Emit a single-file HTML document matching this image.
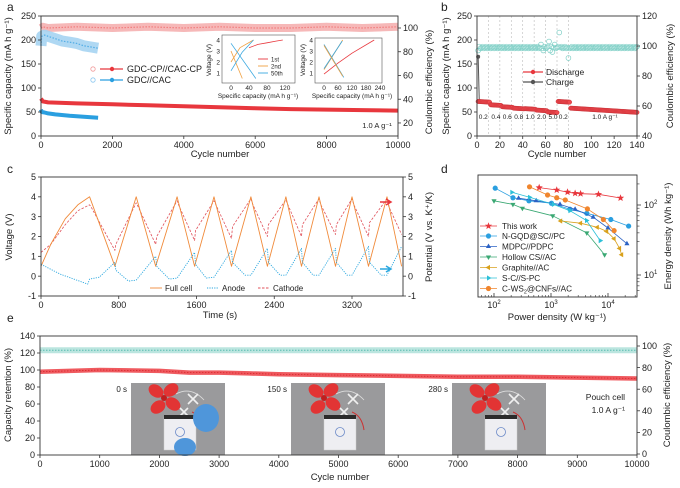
<!DOCTYPE html>
<html><head><meta charset="utf-8"><style>
html,body{margin:0;padding:0;background:#fff}
svg{display:block;font-family:"Liberation Sans",Arial,sans-serif}
</style></head><body>
<svg id="chart" xmlns="http://www.w3.org/2000/svg" width="680" height="488" viewBox="0 0 680 488"></svg>
<script>
// ---------- DATA ----------
// panel a
const aCycles=[1,50,200,1000,2000,3000,4000,5000,6000,7000,8000,9000,10000];
const aRedCap=[78,72,70,68,66,64,62,60,58,56,55,54,53];
const aRedCE=[100,101,100,101,100,101,100,101,100,100,101,100,101];
const aBlueCyc=[1,20,100,200,400,800,1200,1600];
const aBlueCap=[55,50,49,47,45,42,40,38];
const aBlueCECyc=[1,20,100,200,400,600,800,1000,1200,1400,1600];
const aBlueCE=[85,93,94,93,91,89,88,87,85,84,83];
const in1X1=[40,60,80,100,115],in1Y1=[3.3,3.6,3.75,3.9,4.0];
const in1X2c=[0,20,50],in1Y2c=[2.0,3.3,4.0];
const in1X2d=[0,25],in1Y2d=[3.0,0.5];
const in1X3c=[0,25,50],in1Y3c=[1.2,2.9,4.0];
const in1X3d=[0,55],in1Y3d=[3.7,0.5];
const in2X1=[0,60,120,215],in2Y1=[0.9,1.9,2.8,4.0];
const in2Xc=[0,80],in2Yc=[1.3,4.0];
const in2Xd=[0,85],in2Yd=[3.6,0.6];
// panel b
const bSegStart=[1,12,22,32,42,52,62,71,82];
const bSegEnd=[11,21,31,41,51,61,70,81,140];
const bSegCap=[72,65,61,58,57,54,50,72,58];
const bRates=["0.2","0.4","0.6","0.8","1.0","2.0","5.0","0.2"];
const bCEBase=99;
const bCEOutCyc=[1,56,58,63,64,66,68,72,80];
const bCEOutVal=[97,101,97,103,97,96,101,109,92];
const bFirstCharge=165;
// panel c
const cFt=[0,100,250,380,500,760,980,1180,1400,1580,1780,1960,2160,2330,2520,2680,2860,3030,3200,3370,3560,3710];
const cFv=[0.5,1.6,2.9,3.6,4.0,0.5,4.0,0.5,4.0,0.5,4.0,0.5,4.0,0.5,4.0,0.5,4.0,0.5,4.0,0.5,4.0,0.5];
const cCt=[0,100,250,380,500,520,760,770,980,1000,1180,1190,1400,1420,1580,1590,1780,1800,1960,1970,2160,2180,2330,2340,2520,2540,2680,2690,2860,2880,3030,3040,3200,3220,3370,3380,3560,3580,3710];
const cCv=[1.2,1.6,2.6,3.3,3.6,3.45,1.3,1.6,3.7,3.5,1.6,2.0,3.8,3.55,1.8,2.3,3.8,3.6,1.9,2.5,3.9,3.6,2.0,2.6,3.85,3.6,2.0,2.6,3.9,3.6,2.1,2.6,3.9,3.6,2.0,2.7,3.9,3.5,2.1];
const cAt=[0,200,480,500,600,760,770,900,980,1180,1190,1320,1400,1580,1590,1700,1780,1960,1970,2100,2160,2330,2340,2460,2520,2680,2690,2800,2860,3030,3040,3150,3200,3370,3380,3500,3560,3710];
const cAv=[0.6,0.1,-0.4,-0.15,-0.05,0.7,0.3,-0.25,-0.2,1.0,0.5,-0.15,-0.1,1.2,0.6,-0.1,-0.05,1.3,0.7,0.05,0.05,1.4,0.7,0.05,0.05,1.4,0.7,0.05,0.05,1.4,0.7,0.05,0.05,1.5,0.7,0.05,0.05,1.5];
// panel d
const dNames=["This work","N-GQD@SC//PC","MDPC//PDPC","Hollow CS//AC","Graphite//AC","S-C//S-PC","C-WS2@CNFs//AC"];
const dP0=[620,1260,1950,2650,3300,6800,16600], dE0=[177,164,153,147,145,142,126];
const dP1=[105,215,410,1020,2150,4250,11200,23000], dE1=[174,127,115,106,87,76,62,50];
const dP2=[270,550,1440,2650,5500,10000,21500], dE2=[125,115,102,87,67,47,28];
const dP3=[100,215,315,1070,4250,8700], dE3=[115,102,90,70,40,19.5];
const dP4=[1480,3300,6500,9500,12800,16000,17400], dE4=[59,55,48,42,33,24,19.5];
const dP5=[205,420,1100,2150,4200,7300], dE5=[152,129,102,83,60,31];
const dP6=[420,870,1260,1780,4350,8300,12800], dE6=[182,139,127,118,88,62,43];
// panel e
const eCyc=[0,1000,2000,2500,3000,3500,4000,5000,6000,7000,8000,9000,10000];
const eRet=[98,100,99,97,97,96,95,94,93,92,92,91,90];
const eCE=[96,96,96,96,96,96,96,96,96,96,96,96,96];
const ePhotoLabels=["0 s","150 s","280 s"];

// ---------- HELPERS ----------
const NS='http://www.w3.org/2000/svg';
const svg=document.getElementById('chart');
function mk(tag,attrs,parent){const e=document.createElementNS(NS,tag);for(const k in attrs)e.setAttribute(k,attrs[k]);(parent||svg).appendChild(e);return e;}
function lin(d0,d1,r0,r1){return v=>r0+(v-d0)*(r1-r0)/(d1-d0);}
function logs(d0,d1,r0,r1){return v=>r0+(Math.log10(v)-Math.log10(d0))*(r1-r0)/(Math.log10(d1)-Math.log10(d0));}
function txt(x,y,s,size,anchor,rot,fill){const t=mk('text',{x:x,y:y,'font-size':size||9,'text-anchor':anchor||'middle',fill:fill||'#222'});if(rot)t.setAttribute('transform','rotate(-90 '+x+' '+y+')');t.textContent=s;return t;}
function name(e,n,i){return e;}
function poly(xs,ys,sx,sy,st){const pts=xs.map((v,i)=>sx(v).toFixed(1)+','+sy(ys[i]).toFixed(1)).join(' ');const a={points:pts,fill:'none',stroke:st.c,'stroke-width':st.w,'stroke-linejoin':'round'};if(st.d)a['stroke-dasharray']=st.d;if(st.o)a['stroke-opacity']=st.o;return mk('polyline',a);}
function ticksX(vals,labels,sx,y,len,fs){vals.forEach((v,i)=>{const l=mk('line',{x1:sx(v),x2:sx(v),y1:y,y2:y+len,stroke:'#333','stroke-width':0.8});name(l,'x-tick');if(labels){const t=txt(sx(v),y+len+9,labels[i],fs||9);name(t,'x-tick-label');}});}
function ticksY(vals,labels,sy,x,len,fs,side){vals.forEach((v,i)=>{const l=mk('line',{x1:x,x2:x+len*side,y1:sy(v),y2:sy(v),stroke:'#333','stroke-width':0.8});name(l,'y-tick');if(labels){const t=txt(x+(len+2)*side,sy(v)+3.2,labels[i],fs||9,side<0?'end':'start');name(t,'y-tick-label');}});}
function frame(x0,y0,x1,y1,n){const r=mk('rect',{x:x0,y:y0,width:x1-x0,height:y1-y0,fill:'none',stroke:'#333','stroke-width':0.9});name(r,n);return r;}

// ---------- PANEL A ----------
let t=txt(7,11,'a',12,'start');name(t,'panel-a-label');
const xa=lin(0,10000,41,398), ya=lin(0,250,136,16), yaR=lin(0,100,146.7,28);
let p=poly(aCycles,aRedCE,xa,yaR,{c:'#f5b0b0',w:8,o:0.9});name(p,'gdc-cp-ce-band');
p=poly(aCycles,aRedCE,xa,yaR,{c:'#e55',w:1.2,d:'1.5 1.5',o:0.6});name(p,'gdc-cp-ce-markers');
p=poly(aBlueCECyc,aBlueCE,xa,yaR,{c:'#a6d4f2',w:11,o:0.9});name(p,'gdc-cac-ce-band');
p=poly(aBlueCECyc,aBlueCE,xa,yaR,{c:'#2b9be0',w:1.2,d:'1.5 1.5',o:0.7});name(p,'gdc-cac-ce-markers');
p=poly(aCycles,aRedCap,xa,ya,{c:'#e8373d',w:4});name(p,'gdc-cp-capacity-line');
p=poly(aBlueCyc,aBlueCap,xa,ya,{c:'#2a9fe0',w:4});name(p,'gdc-cac-capacity-line');
frame(41,16,398,136,'panel-a-plot-frame');
ticksX([0,2000,4000,6000,8000,10000],['0','2000','4000','6000','8000','10000'],xa,136,3,9);
ticksY([0,50,100,150,200,250],['0','50','100','150','200','250'],ya,41,3,9,-1);
ticksY([20,40,60,80,100],['20','40','60','80','100'],yaR,398,3,9,1);
t=txt(220,157,'Cycle number',9.5);name(t,'panel-a-x-title');
t=txt(11,76,'Specific capacity (mA h g\u207B\u00B9)',9.5,'middle',true);name(t,'panel-a-y-title');
t=txt(432,82,'Coulombic efficiency (%)',9.5,'middle',true);name(t,'panel-a-y2-title');
t=txt(377,128,'1.0 A g\u207B\u00B9',7.5);name(t,'panel-a-rate-label');
[[69,'#e8373d','#f19a9a','GDC-CP//CAC-CP'],[80,'#2a9fe0','#8cc8f0','GDC//CAC']].forEach((r,i)=>{
 const c=mk('circle',{cx:93,cy:r[0],r:2.2,fill:'none',stroke:r[2],'stroke-width':0.8});name(c,'legend-ce-marker');
 const l=mk('line',{x1:100,x2:123,y1:r[0],y2:r[0],stroke:r[1],'stroke-width':1.3});name(l,'legend-line');
 const d=mk('circle',{cx:112,cy:r[0],r:2.2,fill:r[1]});name(d,'legend-marker');
 const tt=txt(127,r[0]+3,r[3],9,'start');name(tt,'legend-entry');
});
const i1x=lin(0,120,231,285), i1y=lin(0,4,84,40);
let fr=mk('rect',{x:222,y:35,width:73,height:48,fill:'#fff',stroke:'#555','stroke-width':0.6});name(fr,'inset1-frame');
p=poly(in1X1,in1Y1,i1x,i1y,{c:'#e8373d',w:0.8});name(p,'inset1-1st');
p=poly(in1X2c,in1Y2c,i1x,i1y,{c:'#f0a040',w:0.8});name(p,'inset1-2nd-charge');
p=poly(in1X2d,in1Y2d,i1x,i1y,{c:'#f0a040',w:0.8});name(p,'inset1-2nd-discharge');
p=poly(in1X3c,in1Y3c,i1x,i1y,{c:'#3aa8e0',w:0.8});name(p,'inset1-50th-charge');
p=poly(in1X3d,in1Y3d,i1x,i1y,{c:'#3aa8e0',w:0.8});name(p,'inset1-50th-discharge');
[1,2,3,4].forEach(v=>{t=txt(220,i1y(v)+2.5,String(v),6.5,'end');name(t,'inset1-y-tick-label');});
[0,40,80,120].forEach(v=>{t=txt(i1x(v),90,String(v),6.5);name(t,'inset1-x-tick-label');});
t=txt(258,98,'Specific capacity (mA h g\u207B\u00B9)',6.5);name(t,'inset1-x-title');
t=txt(211,60,'Voltage (V)',6.5,'middle',true);name(t,'inset1-y-title');
[['1st','#e8373d',59],['2nd','#f0a040',66],['50th','#3aa8e0',73]].forEach(r=>{
 const l=mk('line',{x1:258,x2:268,y1:r[2],y2:r[2],stroke:r[1],'stroke-width':0.9});name(l,'inset1-legend-line');
 const tt=txt(271,r[2]+2.3,r[0],6,'start');name(tt,'inset1-legend-entry');});
const i2x=lin(0,240,324,380);
fr=mk('rect',{x:315,y:38,width:67,height:45,fill:'#fff',stroke:'#555','stroke-width':0.6});name(fr,'inset2-frame');
p=poly(in2X1,in2Y1,i2x,i1y,{c:'#e8373d',w:0.8});name(p,'inset2-1st');
p=poly(in2Xc,in2Yc,i2x,i1y,{c:'#f0a040',w:0.8});name(p,'inset2-2nd-charge');
p=poly(in2Xd,in2Yd,i2x,i1y,{c:'#3aa8e0',w:0.8});name(p,'inset2-discharge');
p=poly([0,78],[1.4,3.9],i2x,i1y,{c:'#3aa8e0',w:0.8});name(p,'inset2-50th-charge');
p=poly([0,80],[3.5,0.7],i2x,i1y,{c:'#f0a040',w:0.8});name(p,'inset2-2nd-discharge');
[1,2,3,4].forEach(v=>{t=txt(313,i1y(v)+2.5,String(v),6.5,'end');name(t,'inset2-y-tick-label');});
[0,60,120,180,240].forEach(v=>{t=txt(i2x(v),90,String(v),6.5);name(t,'inset2-x-tick-label');});
t=txt(352,98,'Specific capacity (mA h g\u207B\u00B9)',6.5);name(t,'inset2-x-title');
t=txt(305,60,'Voltage (V)',6.5,'middle',true);name(t,'inset2-y-title');

// ---------- PANEL B ----------
t=txt(441,11,'b',12,'start');name(t,'panel-b-label');
const xb=lin(0,140,477,637), yb=lin(0,250,136,16), ybR=lin(40,120,136,16);
for(let c=10;c<=80;c+=10){const l=mk('line',{x1:xb(c),x2:xb(c),y1:16,y2:136,stroke:'#bbb','stroke-width':0.6,'stroke-dasharray':'2 2'});name(l,'rate-divider');}
for(let c=1;c<=140;c++){const k=bCEOutCyc.indexOf(c);const v=k>=0?bCEOutVal[k]:bCEBase+((c%3)-1)*0.6;
 const e=mk('circle',{cx:xb(c),cy:ybR(v),r:2.4,fill:'none',stroke:'#7fcfc6','stroke-width':0.7});
 
 }
let chl=mk('line',{x1:xb(1),x2:xb(2),y1:yb(bFirstCharge),y2:yb(bSegCap[0]),stroke:'#555','stroke-width':1});name(chl,'first-charge-line');
let chp=mk('circle',{cx:xb(1),cy:yb(bFirstCharge),r:2,fill:'#555'});name(chp,'first-charge-point');
bSegCap.forEach((v,i)=>{for(let c=bSegStart[i];c<=bSegEnd[i];c++){
 const e=mk('circle',{cx:xb(c),cy:yb(v-(c-bSegStart[i])*0.15),r:2.2,fill:'#ef4a50',stroke:'#c0282e','stroke-width':0.4});
 
 }});
frame(477,16,637,136,'panel-b-plot-frame');
ticksX([0,20,40,60,80,100,120,140],['0','20','40','60','80','100','120','140'],xb,136,3,9);
ticksY([0,50,100,150,200,250],['0','50','100','150','200','250'],yb,477,3,9,-1);
ticksY([40,60,80,100,120],['40','60','80','100','120'],ybR,637,3,9,1);
t=txt(557,157,'Cycle number',9.5);name(t,'panel-b-x-title');
t=txt(449,76,'Specific capacity (mA h g\u207B\u00B9)',9.5,'middle',true);name(t,'panel-b-y-title');
t=txt(673,76,'Coulombic efficiency (%)',9.5,'middle',true);name(t,'panel-b-y2-title');
bRates.forEach((r,i)=>{t=txt(xb(bSegStart[i]+4.5),119,r,6.5);name(t,'rate-label');});
t=txt(xb(112),119,'1.0 A g\u207B\u00B9',6.5);name(t,'rate-label-1a');
[[72,'#e8373d','Discharge'],[82,'#555','Charge']].forEach(r=>{
 const l=mk('line',{x1:523,x2:543,y1:r[0],y2:r[0],stroke:r[1],'stroke-width':1.3});name(l,'legend-line');
 const d=mk('circle',{cx:533,cy:r[0],r:2.2,fill:r[1]});name(d,'legend-marker');
 const tt=txt(546,r[0]+3,r[2],8.5,'start');name(tt,'legend-entry');});

// ---------- PANEL C ----------
t=txt(7,173,'c',12,'start');name(t,'panel-c-label');
const xc=lin(0,3200,41,352), yc=lin(-1,5,296,177);
p=poly(cCt,cCv,xc,yc,{c:'#e0505a',w:0.8,d:'2.5 1.5'});name(p,'cathode-line');
p=poly(cFt,cFv,xc,yc,{c:'#f08a3a',w:0.9});name(p,'full-cell-line');
p=poly(cAt,cAv,xc,yc,{c:'#2aa7df',w:0.9,d:'1.2 1.2'});name(p,'anode-line');
frame(41,177,403,296,'panel-c-plot-frame');
ticksX([0,800,1600,2400,3200],['0','800','1600','2400','3200'],xc,296,3,9);
ticksY([-1,0,1,2,3,4,5],['-1','0','1','2','3','4','5'],yc,41,3,9,-1);
ticksY([-1,0,1,2,3,4,5],['-1','0','1','2','3','4','5'],yc,403,3,9,1);
t=txt(220,318,'Time (s)',9.5);name(t,'panel-c-x-title');
t=txt(12,237,'Voltage (V)',9.5,'middle',true);name(t,'panel-c-y-title');
t=txt(432,237,'Potential (V vs. K\u207A/K)',9.5,'middle',true);name(t,'panel-c-y2-title');
let ar=mk('path',{d:'M380 202 L390 202 M386 199 L391 202 L386 205',stroke:'#e8373d','stroke-width':1.5,fill:'none'});name(ar,'cathode-axis-arrow');
ar=mk('path',{d:'M380 269 L390 269 M386 266 L391 269 L386 272',stroke:'#2aa7df','stroke-width':1.5,fill:'none'});name(ar,'anode-axis-arrow');
[[150,'#f08a3a',null,'Full cell'],[207,'#2aa7df','1.2 1.2','Anode'],[258,'#e0505a','2.5 1.5','Cathode']].forEach(r=>{
 const a={x1:r[0],x2:r[0]+12,y1:288,y2:288,stroke:r[1],'stroke-width':0.9};if(r[2])a['stroke-dasharray']=r[2];
 const l=mk('line',a);name(l,'legend-line');
 const tt=txt(r[0]+15,291,r[3],8,'start');name(tt,'legend-entry');});

// ---------- PANEL D ----------
t=txt(441,173,'d',12,'start');name(t,'panel-d-label');
const xd=logs(100,10000,494,608), yd=logs(10,100,275,205);
frame(478,175,637,297,'panel-d-plot-frame');
const dCols=['#e8373d','#2a9fe0','#2b62c4','#3aa873','#d9a11c','#2cc0d8','#f0852d'];
const dShapes=['star','circle','tup','tdown','tleft','tright','circle'];
function marker(x,y,s,c){
 let e;
 if(s==='circle')e=mk('circle',{cx:x,cy:y,r:2.6,fill:c});
 else if(s==='star'){let pts=[];for(let k=0;k<10;k++){const r=k%2?1.6:3.8,a=-Math.PI/2+k*Math.PI/5;pts.push((x+r*Math.cos(a)).toFixed(1)+','+(y+r*Math.sin(a)).toFixed(1));}e=mk('polygon',{points:pts.join(' '),fill:c});}
 else{const r=3;const rots={tup:-90,tdown:90,tleft:180,tright:0};const a0=rots[s]*Math.PI/180;let pts=[];for(let k=0;k<3;k++){const a=a0+k*2*Math.PI/3;pts.push((x+r*Math.cos(a)).toFixed(1)+','+(y+r*Math.sin(a)).toFixed(1));}e=mk('polygon',{points:pts.join(' '),fill:c});}
 return e;}
const dP=[dP0,dP1,dP2,dP3,dP4,dP5,dP6], dE=[dE0,dE1,dE2,dE3,dE4,dE5,dE6];
dP.forEach((ps,i)=>{
 const l=poly(ps,dE[i],xd,yd,{c:dCols[i],w:0.8});name(l,'series-line-'+i);
 ps.forEach((v,j)=>{const m=marker(xd(v),yd(dE[i][j]),dShapes[i],dCols[i]);
  
  });});
[100,1000,10000].forEach(v=>{const l=mk('line',{x1:xd(v),x2:xd(v),y1:297,y2:293,stroke:'#333','stroke-width':0.8});name(l,'x-tick');});
[60,70,80,90,200,300,400,500,600,700,800,900,2000,3000,4000,5000,6000,7000,8000,9000,20000,30000].forEach(v=>{if(xd(v)>478&&xd(v)<637){const l=mk('line',{x1:xd(v),x2:xd(v),y1:297,y2:295,stroke:'#333','stroke-width':0.6});name(l,'x-minor-tick');}});
[['10','2',100],['10','3',1000],['10','4',10000]].forEach(r=>{const tt=txt(xd(r[2]),308,'',9);tt.innerHTML=r[0]+'<tspan font-size="6" dy="-4">'+r[1]+'</tspan>';name(tt,'x-tick-label');});
[10,100].forEach(v=>{const l=mk('line',{x1:637,x2:641,y1:yd(v),y2:yd(v),stroke:'#333','stroke-width':0.8});name(l,'y-tick');});
[6,7,8,9,20,30,40,50,60,70,80,90,200].forEach(v=>{if(yd(v)>175&&yd(v)<297){const l=mk('line',{x1:637,x2:639.5,y1:yd(v),y2:yd(v),stroke:'#333','stroke-width':0.6});name(l,'y-minor-tick');}});
[['10','1',10],['10','2',100]].forEach(r=>{const tt=txt(644,yd(r[2])+3,'',9,'start');tt.innerHTML=r[0]+'<tspan font-size="6" dy="-4">'+r[1]+'</tspan>';name(tt,'y-tick-label');});
t=txt(557,320,'Power density (W kg\u207B\u00B9)',9.5);name(t,'panel-d-x-title');
t=txt(671,236,'Energy density (Wh kg\u207B\u00B9)',9.5,'middle',true);name(t,'panel-d-y-title');
const dLegY=[226,236,246.5,257,267.5,278,288.5];
dNames.forEach((n,i)=>{
 const l=mk('line',{x1:480,x2:497,y1:dLegY[i],y2:dLegY[i],stroke:dCols[i],'stroke-width':0.8});name(l,'legend-line');
 const m=marker(488.5,dLegY[i],dShapes[i],dCols[i]);name(m,'legend-marker');
 const tt=txt(502,dLegY[i]+3,'',8.2,'start');
 if(i===6){tt.innerHTML='C-WS<tspan font-size="5.5" dy="2">2</tspan><tspan dy="-2">@CNFs//AC</tspan>';}else{tt.textContent=n;}
 name(tt,'legend-entry');});

// ---------- PANEL E ----------
t=txt(7,322,'e',12,'start');name(t,'panel-e-label');
const xe=lin(0,10000,40,637), ye=lin(0,140,455,336), yeR=lin(0,100,454,346);
p=poly(eCyc,eCE,xe,yeR,{c:'#b4e2dc',w:6,o:0.9});name(p,'ce-band');
p=poly(eCyc,eCE,xe,yeR,{c:'#5bbcb1',w:1,d:'1.5 1.5'});name(p,'ce-markers');
p=poly(eCyc,eRet,xe,ye,{c:'#ef5a5f',w:4.5});name(p,'retention-band');
p=poly(eCyc,eRet,xe,ye,{c:'#d8262c',w:0.8,d:'1.5 1.5'});name(p,'retention-markers');
const photoX=[131,291,452];
photoX.forEach((px,i)=>{
 const g=mk('g',{});name(g,'photo-'+i);
 mk('rect',{x:px,y:383,width:94,height:72,fill:'#9a9a9c'},g);
 const fx=px+33, fy=398;
 [[-8,-7],[7,-8],[9,6],[-6,9]].forEach(d=>mk('ellipse',{cx:fx+d[0],cy:fy+d[1],rx:8,ry:6,fill:'#e23434',transform:'rotate('+(d[0]*d[1]>0?35:-35)+' '+(fx+d[0])+' '+(fy+d[1])+')'},g));
 mk('circle',{cx:fx,cy:fy,r:3,fill:'#c01f1f'},g);
 mk('path',{d:'M'+(fx+12)+' '+(fy-4)+' q15 -8 28 6',stroke:'#ddd','stroke-width':0.8,fill:'none'},g);
 mk('path',{d:'M'+(fx+24)+' '+(fy-4)+' l10 10 m0 -10 l-10 10 M'+(fx+16)+' '+(fy+10)+' l8 8 m0 -8 l-8 8',stroke:'#f0f0f0','stroke-width':1.6,fill:'none'},g);
 mk('path',{d:'M'+(fx+28)+' '+(fy+14)+' q10 4 12 18',stroke:'#c33','stroke-width':1,fill:'none'},g);
 mk('rect',{x:px+33,y:417,width:32,height:33,fill:'#eeeef2',stroke:'#ccc','stroke-width':0.5},g);
 mk('circle',{cx:px+49,cy:432,r:4.5,fill:'none',stroke:'#6c8ac8','stroke-width':0.8},g);
 mk('rect',{x:px+33,y:415,width:32,height:4,fill:'#2b2b2b'},g);
 if(i===0){mk('ellipse',{cx:px+75,cy:418,rx:13,ry:14,fill:'#4f96da'},g);mk('ellipse',{cx:px+54,cy:447,rx:11,ry:9,fill:'#4f96da'},g);}
 const lt=txt(px-4,392,ePhotoLabels[i],8,'end');name(lt,'photo-time-label');
});
frame(40,336,637,455,'panel-e-plot-frame');
ticksX([0,1000,2000,3000,4000,5000,6000,7000,8000,9000,10000],['0','1000','2000','3000','4000','5000','6000','7000','8000','9000','10000'],xe,455,3,9);
ticksY([0,20,40,60,80,100,120,140],['0','20','40','60','80','100','120','140'],ye,40,3,9,-1);
ticksY([0,20,40,60,80,100],['0','20','40','60','80','100'],yeR,637,3,9,1);
t=txt(340,480,'Cycle number',9.5);name(t,'panel-e-x-title');
t=txt(11,395,'Capacity retention (%)',9.5,'middle',true);name(t,'panel-e-y-title');
t=txt(670,395,'Coulombic efficiency (%)',9.5,'middle',true);name(t,'panel-e-y2-title');
t=txt(625,400,'Pouch cell',8.5,'end');name(t,'pouch-cell-label');
t=txt(625,413,'1.0 A g\u207B\u00B9',8.5,'end');name(t,'pouch-rate-label');
</script>
</body></html>
